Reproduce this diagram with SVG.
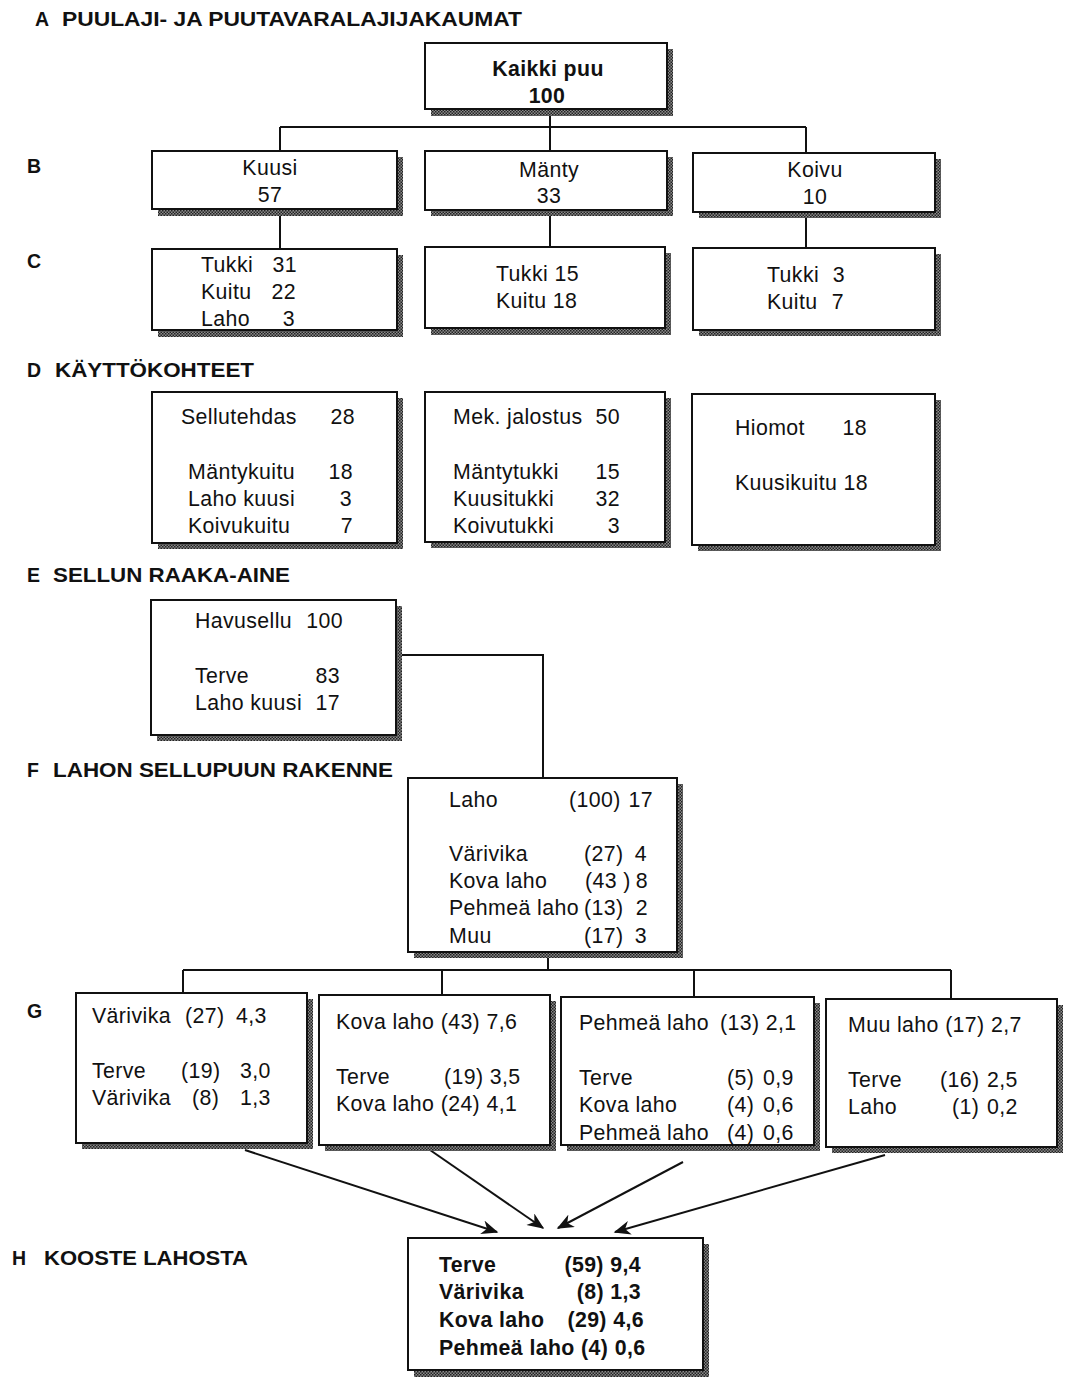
<svg xmlns="http://www.w3.org/2000/svg" width="1073" height="1377" viewBox="0 0 1073 1377">
<defs>
<pattern id="dots" width="3" height="3" patternUnits="userSpaceOnUse">
<rect width="3" height="3" fill="#8a8a8a"/>
<rect width="1.5" height="1.5" fill="#222"/>
<rect x="1.5" y="1.5" width="1.5" height="1.5" fill="#222"/>
</pattern>
<marker id="arr" viewBox="0 0 12 10" refX="11" refY="5" markerWidth="18" markerHeight="14" orient="auto" markerUnits="userSpaceOnUse">
<path d="M0,0 L12,5 L0,10 L3.5,5 z" fill="#111"/>
</marker>
</defs>
<style>
text{font-family:"Liberation Sans",Arial,sans-serif;font-size:21.3px;letter-spacing:0.4px;fill:#111}
.h{font-weight:bold;font-size:19.5px;letter-spacing:0}
.b{font-weight:bold}
.r{text-anchor:end}
.c{text-anchor:middle}
.sh{fill:url(#dots)}
.bx{fill:#fff;stroke:#111;stroke-width:2}
.ln{fill:none;stroke:#111;stroke-width:2}
</style>
<rect width="1073" height="1377" fill="#fff"/>

<g id="headings">
<text class="h" x="35" y="26">A</text>
<text class="h" x="62" y="26" textLength="460" lengthAdjust="spacingAndGlyphs">PUULAJI- JA PUUTAVARALAJIJAKAUMAT</text>
<text class="h" x="27" y="173">B</text>
<text class="h" x="27" y="268">C</text>
<text class="h" x="27" y="377">D</text>
<text class="h" x="55" y="377" textLength="199" lengthAdjust="spacingAndGlyphs">KÄYTTÖKOHTEET</text>
<text class="h" x="27" y="582">E</text>
<text class="h" x="53" y="582" textLength="237" lengthAdjust="spacingAndGlyphs">SELLUN RAAKA-AINE</text>
<text class="h" x="27" y="777">F</text>
<text class="h" x="53" y="777" textLength="340" lengthAdjust="spacingAndGlyphs">LAHON SELLUPUUN RAKENNE</text>
<text class="h" x="27" y="1018">G</text>
<text class="h" x="12" y="1265">H</text>
<text class="h" x="44" y="1265" textLength="204" lengthAdjust="spacingAndGlyphs">KOOSTE LAHOSTA</text>
</g>

<g id="connectors">
<path class="ln" d="M550,109 V127 M280,127 H806 M280,127 V151 M550,127 V151 M806,127 V153"/>
<path class="ln" d="M280,209 V249 M550,210 V247 M806,212 V248"/>
<path class="ln" d="M396,655 H543 V778"/>
<path class="ln" d="M548,952 V970 M183,970 H951 M183,970 V993 M442,970 V995 M694,970 V997 M951,970 V999"/>
<line class="ln" x1="245" y1="1150" x2="497" y2="1232" marker-end="url(#arr)"/>
<line class="ln" x1="430" y1="1150" x2="543" y2="1228" marker-end="url(#arr)"/>
<line class="ln" x1="683" y1="1162" x2="558" y2="1228" marker-end="url(#arr)"/>
<line class="ln" x1="885" y1="1155" x2="615" y2="1232" marker-end="url(#arr)"/>
</g>

<g id="kaikki">
<rect class="sh" x="431" y="49" width="242" height="67"/>
<rect class="bx" x="425" y="43" width="242" height="66"/>
<text class="b c" x="548" y="76">Kaikki puu</text>
<text class="b c" x="547" y="103">100</text>
</g>

<g id="kuusi">
<rect class="sh" x="158" y="157" width="245" height="59"/>
<rect class="bx" x="152" y="151" width="245" height="58"/>
<text class="c" x="270" y="175">Kuusi</text>
<text class="c" x="270" y="202">57</text>
</g>
<g id="manty">
<rect class="sh" x="431" y="157" width="242" height="59"/>
<rect class="bx" x="425" y="151" width="242" height="59"/>
<text class="c" x="549" y="177">Mänty</text>
<text class="c" x="549" y="203">33</text>
</g>
<g id="koivu">
<rect class="sh" x="699" y="159" width="242" height="59"/>
<rect class="bx" x="693" y="153" width="242" height="59"/>
<text class="c" x="815" y="177">Koivu</text>
<text class="c" x="815" y="204">10</text>
</g>

<g id="kuusi-c">
<rect class="sh" x="158" y="255" width="245" height="82"/>
<rect class="bx" x="152" y="249" width="245" height="81"/>
<text x="201" y="272">Tukki</text><text class="r" x="297" y="272">31</text>
<text x="201" y="299">Kuitu</text><text class="r" x="296" y="299">22</text>
<text x="201" y="326">Laho</text><text class="r" x="295" y="326">3</text>
</g>
<g id="manty-c">
<rect class="sh" x="431" y="253" width="240" height="82"/>
<rect class="bx" x="425" y="247" width="240" height="81"/>
<text x="496" y="281">Tukki 15</text>
<text x="496" y="308">Kuitu 18</text>
</g>
<g id="koivu-c">
<rect class="sh" x="699" y="254" width="242" height="82"/>
<rect class="bx" x="693" y="248" width="242" height="82"/>
<text x="767" y="282">Tukki</text><text class="r" x="845" y="282">3</text>
<text x="767" y="309">Kuitu</text><text class="r" x="844" y="309">7</text>
</g>

<g id="sellutehdas">
<rect class="sh" x="158" y="398" width="245" height="151"/>
<rect class="bx" x="152" y="392" width="245" height="151"/>
<text x="181" y="424">Sellutehdas</text><text class="r" x="355" y="424">28</text>
<text x="188" y="479">Mäntykuitu</text><text class="r" x="353" y="479">18</text>
<text x="188" y="506">Laho kuusi</text><text class="r" x="352" y="506">3</text>
<text x="188" y="533">Koivukuitu</text><text class="r" x="353" y="533">7</text>
</g>
<g id="mek">
<rect class="sh" x="431" y="398" width="240" height="150"/>
<rect class="bx" x="425" y="392" width="240" height="150"/>
<text x="453" y="424">Mek. jalostus</text><text class="r" x="620" y="424">50</text>
<text x="453" y="479">Mäntytukki</text><text class="r" x="620" y="479">15</text>
<text x="453" y="506">Kuusitukki</text><text class="r" x="620" y="506">32</text>
<text x="453" y="533">Koivutukki</text><text class="r" x="620" y="533">3</text>
</g>
<g id="hiomot">
<rect class="sh" x="698" y="400" width="243" height="151"/>
<rect class="bx" x="692" y="394" width="243" height="151"/>
<text x="735" y="435">Hiomot</text><text class="r" x="867" y="435">18</text>
<text x="735" y="490">Kuusikuitu 18</text>
</g>

<g id="havusellu">
<rect class="sh" x="157" y="606" width="245" height="135"/>
<rect class="bx" x="151" y="600" width="245" height="135"/>
<text x="195" y="628">Havusellu</text><text class="r" x="343" y="628">100</text>
<text x="195" y="683">Terve</text><text class="r" x="340" y="683">83</text>
<text x="195" y="710">Laho kuusi</text><text class="r" x="340" y="710">17</text>
</g>

<g id="laho">
<rect class="sh" x="414" y="784" width="269" height="174"/>
<rect class="bx" x="408" y="778" width="269" height="174"/>
<text x="449" y="807">Laho</text><text x="569" y="807">(100)</text><text class="r" x="653" y="807">17</text>
<text x="449" y="861">Värivika</text><text x="584" y="861">(27)</text><text class="r" x="647" y="861">4</text>
<text x="449" y="888">Kova laho</text><text x="585" y="888">(43 )</text><text class="r" x="648" y="888">8</text>
<text x="449" y="915">Pehmeä laho</text><text x="584" y="915">(13)</text><text class="r" x="648" y="915">2</text>
<text x="449" y="943">Muu</text><text x="584" y="943">(17)</text><text class="r" x="647" y="943">3</text>
</g>

<g id="g-varivika">
<rect class="sh" x="82" y="999" width="231" height="150"/>
<rect class="bx" x="76" y="993" width="231" height="150"/>
<text x="92" y="1023">Värivika</text><text x="185" y="1023">(27)</text><text x="236" y="1023">4,3</text>
<text x="92" y="1078">Terve</text><text x="181" y="1078">(19)</text><text x="240" y="1078">3,0</text>
<text x="92" y="1105">Värivika</text><text x="192" y="1105">(8)</text><text x="240" y="1105">1,3</text>
</g>
<g id="g-kova">
<rect class="sh" x="325" y="1001" width="231" height="150"/>
<rect class="bx" x="319" y="995" width="231" height="150"/>
<text x="336" y="1029">Kova laho (43) 7,6</text>
<text x="336" y="1084">Terve</text><text x="444" y="1084">(19) 3,5</text>
<text x="336" y="1111">Kova laho (24) 4,1</text>
</g>
<g id="g-pehmea">
<rect class="sh" x="567" y="1003" width="253" height="148"/>
<rect class="bx" x="561" y="997" width="253" height="148"/>
<text x="579" y="1030">Pehmeä laho</text><text x="720" y="1030">(13) 2,1</text>
<text x="579" y="1085">Terve</text><text x="727" y="1085">(5)</text><text x="763" y="1085">0,9</text>
<text x="579" y="1112">Kova laho</text><text x="727" y="1112">(4)</text><text x="763" y="1112">0,6</text>
<text x="579" y="1140">Pehmeä laho</text><text x="727" y="1140">(4)</text><text x="763" y="1140">0,6</text>
</g>
<g id="g-muu">
<rect class="sh" x="832" y="1005" width="231" height="148"/>
<rect class="bx" x="826" y="999" width="231" height="148"/>
<text x="848" y="1032">Muu laho (17) 2,7</text>
<text x="848" y="1087">Terve</text><text x="940" y="1087">(16)</text><text x="987" y="1087">2,5</text>
<text x="848" y="1114">Laho</text><text x="952" y="1114">(1)</text><text x="987" y="1114">0,2</text>
</g>

<g id="kooste">
<rect class="sh" x="414" y="1244" width="295" height="133"/>
<rect class="bx" x="408" y="1238" width="295" height="132"/>
<text class="b" x="439" y="1272">Terve</text><text class="b r" x="641" y="1272">(59) 9,4</text>
<text class="b" x="439" y="1299">Värivika</text><text class="b r" x="641" y="1299">(8) 1,3</text>
<text class="b" x="439" y="1327">Kova laho</text><text class="b r" x="644" y="1327">(29) 4,6</text>
<text class="b" x="439" y="1355">Pehmeä laho (4) 0,6</text>
</g>
</svg>
